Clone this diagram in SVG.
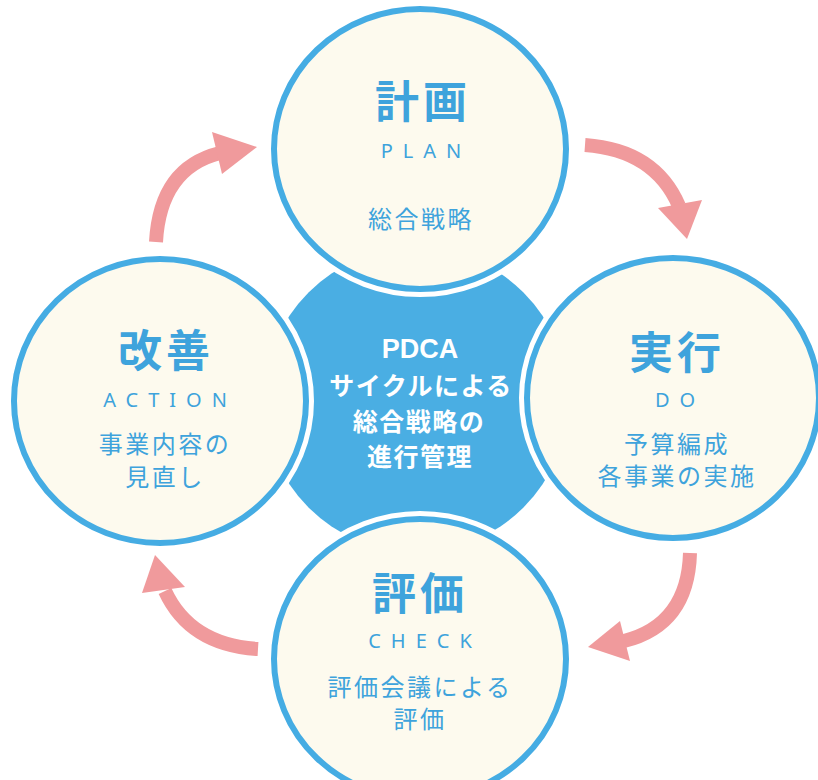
<svg xmlns="http://www.w3.org/2000/svg" width="818" height="780" viewBox="0 0 818 780">
<style>
.halo{fill:none;stroke:#ffffff;stroke-width:16}
.ring{fill:#FDFAEE;stroke:#45ACE3;stroke-width:6}
.title{font-family:"Noto Sans CJK JP","Noto Sans",sans-serif;font-size:44px;font-weight:700;fill:#3EA3DC;text-anchor:middle;letter-spacing:4px}
.en{font-family:"Noto Sans","Liberation Sans",sans-serif;font-size:20px;fill:#3EA3DC;text-anchor:middle;letter-spacing:10px}
.desc{font-family:"Noto Sans CJK JP","Noto Sans",sans-serif;font-size:24px;fill:#3EA3DC;text-anchor:middle;letter-spacing:2.5px}
.ctr{font-family:"Noto Sans CJK JP","Noto Sans",sans-serif;font-size:25px;font-weight:700;fill:#ffffff;text-anchor:middle;letter-spacing:1.5px}
.shaft{fill:none;stroke:#F09A9C;stroke-width:14}
.head{fill:#F09A9C}
</style>
<rect width="818" height="780" fill="#ffffff"/>
<g id="center">
<circle cx="416" cy="400" r="152" fill="#4AAEE3"/>
</g>
<g id="plan">
<ellipse class="halo" cx="420" cy="149" rx="146" ry="140"/>
<ellipse class="ring" cx="420" cy="149" rx="146" ry="140"/>
<text class="title" x="423" y="118">計画</text>
<text class="en" x="426" y="158">PLAN</text>
<text class="desc" x="421" y="228">総合戦略</text>
</g>
<g id="action">
<ellipse class="halo" cx="160" cy="401" rx="146" ry="142"/>
<ellipse class="ring" cx="160" cy="401" rx="146" ry="142"/>
<text class="title" x="166" y="367">改善</text>
<text class="en" x="170" y="407">ACTION</text>
<text class="desc" x="165" y="453">事業内容の</text>
<text class="desc" x="165" y="486">見直し</text>
</g>
<g id="do">
<ellipse class="halo" cx="673" cy="398" rx="146" ry="140"/>
<ellipse class="ring" cx="673" cy="398" rx="146" ry="140"/>
<text class="title" x="677" y="369">実行</text>
<text class="en" x="680" y="407">DO</text>
<text class="desc" x="677" y="453">予算編成</text>
<text class="desc" x="677" y="485">各事業の実施</text>
</g>
<g id="check">
<ellipse class="halo" cx="420" cy="659" rx="146" ry="140"/>
<ellipse class="ring" cx="420" cy="659" rx="146" ry="140"/>
<text class="title" x="420" y="610">評価</text>
<text class="en" x="425" y="648">CHECK</text>
<text class="desc" x="420" y="696">評価会議による</text>
<text class="desc" x="420" y="728">評価</text>
</g>
<g id="center-text">
<text x="420" y="358" style="font-family:'Liberation Sans',sans-serif;font-size:27px;font-weight:700;fill:#ffffff;text-anchor:middle">PDCA</text>
<text class="ctr" x="421" y="395">サイクルによる</text>
<text class="ctr" x="419" y="431">総合戦略の</text>
<text class="ctr" x="420" y="466">進行管理</text>
</g>
<g id="connectors">
<path class="shaft" d="M156,242 Q160,168 220,153"/>
<polygon class="head" points="212,132 257,147 222,174"/>
<path class="shaft" d="M585,145 Q655,150 679,206"/>
<polygon class="head" points="658,208 702,200 687,239"/>
<path class="shaft" d="M690,553 Q688,625 624,641"/>
<polygon class="head" points="588,647 620,621 630,661"/>
<path class="shaft" d="M258,649 Q190,645 165,591"/>
<polygon class="head" points="155,555 142,593 185,587"/>
</g>
</svg>
